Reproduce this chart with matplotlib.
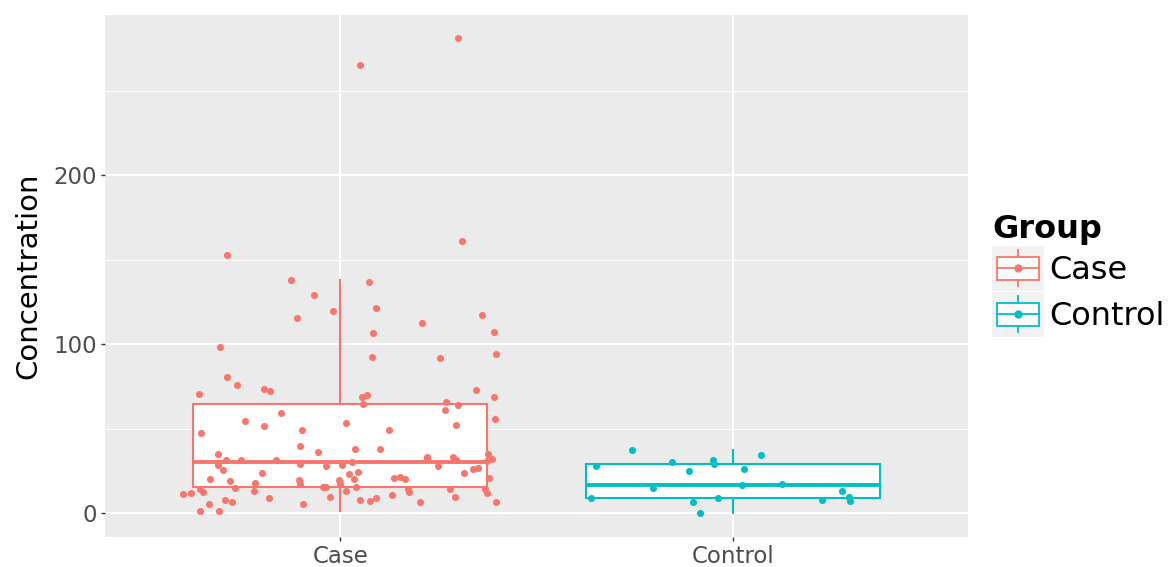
import matplotlib
matplotlib.use("Agg")
import matplotlib.pyplot as plt
from matplotlib.patches import Patch, Rectangle
from matplotlib.lines import Line2D
from matplotlib.legend_handler import HandlerBase

# groups and colours (ggplot defaults)
groups = ["Case", "Control"]
colors = ["#F8766D", "#00BFC4"]

# jittered points: horizontal jitter and concentration
case_jitter = [0.299, 0.049, -0.290, 0.310, -0.127, 0.073, -0.068,
               -0.306, -0.290, -0.263, -0.361, -0.195, -0.180,
               -0.111, -0.020, 0.090, 0.082, 0.080, 0.055, 0.068, 0.058,
               0.361, 0.208, 0.392, 0.254, 0.397, 0.346, 0.392, 0.269, 0.301,
               -0.152, -0.243, -0.194, -0.356, -0.312, -0.291, -0.254, -0.164,
               -0.313, -0.298, -0.332, -0.282, -0.201, -0.217, -0.268, -0.357,
               -0.350, -0.401, -0.381, -0.220, -0.182, -0.294, -0.275, -0.334,
               -0.358, -0.310,
               -0.099, 0.014, 0.124, -0.103, -0.057, 0.038, 0.100, -0.103,
               -0.037, 0.003, 0.029, 0.022, 0.044, 0.036, 0.136, 0.152,
               -0.105, -0.102, -0.003, -0.002, -0.045, -0.036, 0.041, 0.014,
               -0.027, 0.131, 0.090, 0.076, 0.051, -0.094,
               0.267, 0.395, 0.294, 0.220, 0.221, 0.287, 0.296, 0.249,
               0.377, 0.386, 0.375, 0.316, 0.337, 0.351, 0.378, 0.165,
               0.173, 0.174, 0.279, 0.369, 0.374, 0.291, 0.204, 0.397]
case_value = [281.1, 265.1, 152.8, 160.9, 137.9, 136.9, 129.3,
              98.2, 80.7, 76.1, 70.8, 73.4, 72.4,
              115.4, 119.5, 121.5, 106.5, 92.3, 68.8, 69.8, 64.7,
              117.3, 112.4, 107.3, 92.1, 94.4, 72.8, 68.8, 65.7, 64.1,
              59.2, 54.6, 51.7, 47.3, 34.9, 31.4, 31.4, 31.4,
              28.8, 25.4, 20.1, 19.1, 24.0, 17.9, 15.0, 14.6,
              12.4, 11.2, 12.0, 13.0, 9.2, 8.0, 6.9, 5.3,
              1.5, 1.5,
              49.5, 53.3, 49.5, 39.6, 36.3, 38.2, 38.0, 29.2,
              27.8, 28.4, 30.2, 23.3, 24.3, 20.3, 20.7, 21.7,
              19.5, 17.5, 19.7, 17.3, 15.4, 15.6, 15.4, 13.0,
              9.8, 11.0, 9.2, 7.1, 7.7, 5.5,
              61.1, 55.8, 52.4, 33.5, 31.9, 33.1, 31.5, 28.0,
              35.1, 32.1, 31.1, 23.8, 26.0, 27.0, 20.9, 20.5,
              14.4, 12.4, 14.2, 14.6, 11.8, 9.8, 6.5, 6.7]

control_jitter = [-0.256, 0.072, -0.348, -0.154, -0.050, -0.047, -0.111, 0.029,
                  -0.203, 0.023, 0.126, 0.278, -0.360, -0.037, -0.100, 0.228,
                  0.296, 0.300, -0.084]
control_value = [37.5, 34.5, 28.2, 30.2, 31.5, 29.3, 25.2, 26.2,
                 14.8, 16.6, 17.5, 13.2, 8.9, 9.2, 6.9, 7.9,
                 9.5, 7.5, 0.2]

# box statistics as drawn
whis_low = [1.5, 0.3]
q1 = [15.4, 8.9]
median = [30.2, 16.7]
q3 = [64.7, 29.0]
whis_high = [137.9, 37.2]


class HandlerBox(HandlerBase):
    # small ggplot-like boxplot key with a point
    def create_artists(self, legend, orig_handle, xdescent, ydescent,
                       width, height, fontsize, trans):
        c = orig_handle.get_edgecolor()
        x0, y0 = -xdescent, -ydescent
        cx, cy = x0 + width / 2, y0 + height / 2
        bg = Rectangle((x0, y0), width, height, facecolor="#F2F2F2",
                       edgecolor="none", transform=trans)
        box = Rectangle((x0 + 0.1 * width, y0 + 0.25 * height), 0.8 * width,
                        0.5 * height, facecolor="white", edgecolor=c,
                        linewidth=1.3, transform=trans)
        w1 = Line2D([cx, cx], [y0 + 0.1 * height, y0 + 0.25 * height],
                    color=c, linewidth=1.3, transform=trans)
        w2 = Line2D([cx, cx], [y0 + 0.75 * height, y0 + 0.9 * height],
                    color=c, linewidth=1.3, transform=trans)
        med = Line2D([x0 + 0.1 * width, x0 + 0.9 * width], [cy, cy],
                     color=c, linewidth=1.3, transform=trans)
        dot = Line2D([cx], [cy], marker="o", markersize=5, color=c,
                     linestyle="none", transform=trans)
        return [bg, box, w1, w2, med, dot]


fig = plt.figure(figsize=(11.74, 5.67), dpi=100)
ax = fig.add_axes([105 / 1174, 1 - 537 / 567, 863 / 1174, 522 / 567])
ax.set_facecolor("#EBEBEB")

stats = []
for i, g in enumerate(groups):
    stats.append(dict(label=g, whislo=whis_low[i], q1=q1[i], med=median[i],
                      q3=q3[i], whishi=whis_high[i]))
bp = ax.bxp(stats, positions=[1, 2], widths=0.75, showcaps=False,
            showfliers=False, patch_artist=True, zorder=3)
for i in range(len(groups)):
    bp["boxes"][i].set(facecolor="white", edgecolor=colors[i], linewidth=1.5)
    bp["medians"][i].set(color=colors[i], linewidth=2.8)
    for w in bp["whiskers"][2 * i:2 * i + 2]:
        w.set(color=colors[i], linewidth=1.5)

ax.scatter([1 + j for j in case_jitter], case_value, s=26, color=colors[0],
           linewidths=0, zorder=4)
ax.scatter([2 + j for j in control_jitter], control_value, s=26,
           color=colors[1], linewidths=0, zorder=4)

ax.set_xlim(0.4, 2.6)
ax.set_ylim(-14, 294.9)
ax.set_xticks([1, 2])
ax.set_xticklabels(groups)
ax.set_yticks([0, 100, 200])
ax.set_yticks([50, 150, 250], minor=True)
ax.grid(which="major", color="white", linewidth=1.5, zorder=0)
ax.grid(which="minor", axis="y", color="white", linewidth=0.7, zorder=0)
ax.set_axisbelow(True)
for s in ax.spines.values():
    s.set_visible(False)
ax.tick_params(which="major", length=3, width=1, color="#333333",
               labelcolor="#4D4D4D", labelsize=16.5, pad=3)
ax.tick_params(which="minor", length=0)
ax.set_ylabel("Concentration", fontsize=21, color="black", labelpad=8)

handles = [Patch(edgecolor=c, facecolor="white") for c in colors]
leg = fig.legend(handles, groups, handler_map={Patch: HandlerBox()},
                 loc="upper left", bbox_to_anchor=(992 / 1174, 1 - 214 / 567),
                 frameon=False, fontsize=23, title="Group",
                 title_fontproperties={"weight": "bold", "size": 23},
                 alignment="left", borderpad=0, borderaxespad=0,
                 handlelength=1.63, handleheight=1.79, handletextpad=0.15,
                 labelspacing=0.03)

fig.savefig("out.png", dpi=100)
